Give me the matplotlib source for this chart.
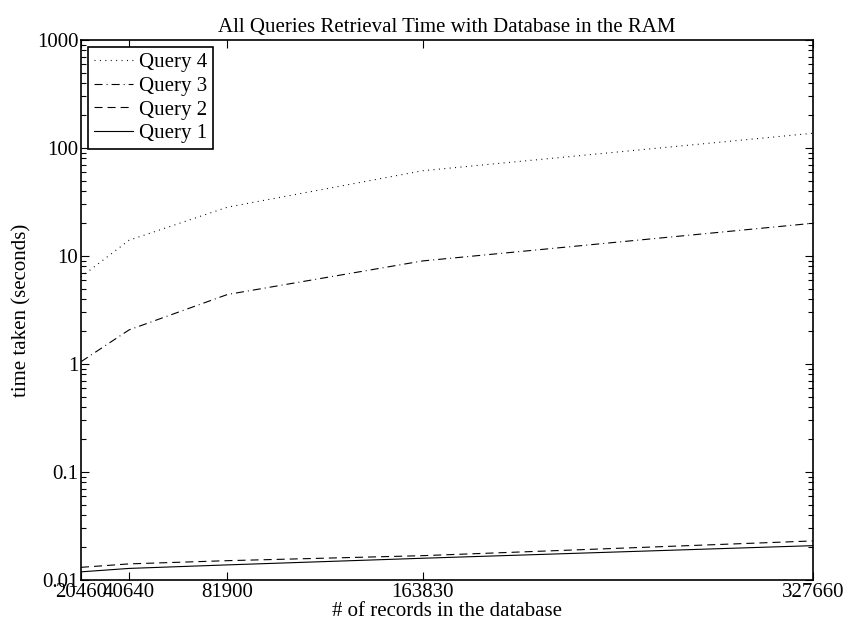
import numpy as np
import matplotlib
matplotlib.use("Agg")
import matplotlib.pyplot as plt

plt.rcParams['font.family'] = ['Liberation Serif', 'DejaVu Serif']
plt.rcParams['font.size'] = 15
plt.rcParams['lines.scale_dashes'] = False

records = [20460, 40640, 81900, 163830, 327660]
query1 = [0.0119, 0.0128, 0.0138, 0.0159, 0.0208]
query2 = [0.0131, 0.0141, 0.0151, 0.0168, 0.0230]
query3 = [1.05, 2.07, 4.4, 9.0, 20.1]
query4 = [6.4, 14.0, 28.3, 61.6, 137.0]
ytick_vals = [0.01, 0.1, 1, 10, 100, 1000]
ytick_labels = ['0.01', '0.1', '1', '10', '100', '1000']

fig = plt.figure(figsize=(8.47, 6.31), dpi=100)
ax = fig.add_axes([81/847, 51/631, 732/847, 540/631])

ax.plot(records, query4, color='k', lw=0.8, linestyle=(0, (0.7, 3.2)), label='Query 4')
ax.plot(records, query3, color='k', lw=0.8, linestyle=(0, (5.8, 2.9, 0.7, 2.9)), label='Query 3')
ax.plot(records, query2, color='k', lw=0.8, linestyle=(0, (5.8, 3.6)), label='Query 2')
ax.plot(records, query1, color='k', lw=0.8, linestyle='-', label='Query 1')

ax.set_yscale('log')
ax.set_xlim(records[0], records[-1])
ax.set_ylim(0.01, 1000)
ax.set_xticks(records)
ax.set_xticklabels([str(r) for r in records])
ax.set_yticks(ytick_vals)
ax.set_yticklabels(ytick_labels)
ax.yaxis.set_minor_locator(matplotlib.ticker.LogLocator(base=10, subs=np.arange(2, 10)))
ax.yaxis.set_minor_formatter(matplotlib.ticker.NullFormatter())

ax.tick_params(which='both', direction='in', top=True, right=True, width=0.8)
ax.tick_params(which='major', length=6, pad=2)
ax.tick_params(which='minor', length=3.5)
for s in ax.spines.values():
    s.set_linewidth(1.2)

ax.set_title('All Queries Retrieval Time with Database in the RAM', fontsize=15, pad=6)
ax.set_xlabel('# of records in the database', fontsize=15, labelpad=0)
ax.set_ylabel('time taken (seconds)', fontsize=15, labelpad=4)

leg = ax.legend(loc='upper left', fancybox=False, edgecolor='k', framealpha=1,
                handlelength=1.9, handletextpad=0.3, labelspacing=0.2,
                borderpad=0.25, borderaxespad=0.35, fontsize=15)
leg.get_frame().set_linewidth(1.2)

fig.savefig('out.png', dpi=100)
